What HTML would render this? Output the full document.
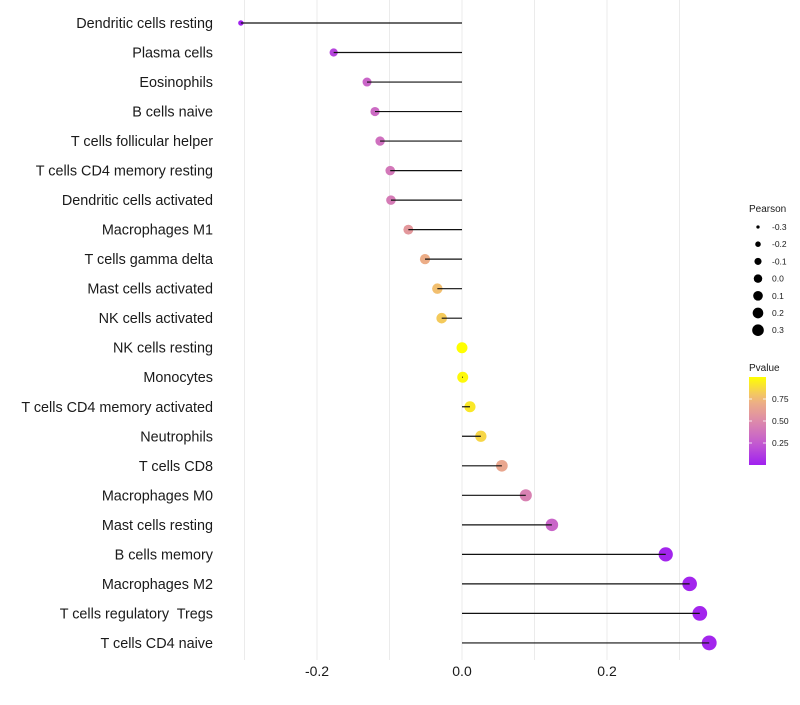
<!DOCTYPE html>
<html><head><meta charset="utf-8"><style>
body{margin:0;background:#fff;}
svg text{font-family:"Liberation Sans",sans-serif;white-space:pre;}
</style></head><body>
<svg id="chart" width="800" height="700" xmlns="http://www.w3.org/2000/svg">
<g id="grid"></g>
<g id="ylabels"></g>
<g id="xlabels"></g>
<g id="marks"></g>
<g id="legend"></g>
</svg>
<script>
const categories=["Dendritic cells resting","Plasma cells","Eosinophils","B cells naive","T cells follicular helper","T cells CD4 memory resting","Dendritic cells activated","Macrophages M1","T cells gamma delta","Mast cells activated","NK cells activated","NK cells resting","Monocytes","T cells CD4 memory activated","Neutrophils","T cells CD8","Macrophages M0","Mast cells resting","B cells memory","Macrophages M2","T cells regulatory  Tregs","T cells CD4 naive"];
const pearson=[-0.305,-0.177,-0.131,-0.120,-0.113,-0.099,-0.098,-0.074,-0.051,-0.034,-0.028,0.0,0.001,0.011,0.026,0.055,0.088,0.124,0.281,0.314,0.328,0.341];
const pvalue=[0.01,0.15,0.30,0.33,0.36,0.40,0.42,0.58,0.70,0.78,0.82,1.0,0.98,0.92,0.86,0.66,0.45,0.30,0.02,0.02,0.02,0.02];
const xTicks=[-0.2,0,0.2];
const xTickLabels=["-0.2","0.0","0.2"];
const gridVals=[-0.3,-0.2,-0.1,0,0.1,0.2,0.3];
const sizeLegend=[-0.3,-0.2,-0.1,0.0,0.1,0.2,0.3];
const pTicks=[0.25,0.5,0.75];

const NS="http://www.w3.org/2000/svg";
const X=v=>462+v*725;
const Y=i=>23+i*29.52;
const R=v=>Math.sqrt(Math.max(2,30+74*v));
const stops=[[0,[160,32,240]],[0.25,[196,92,208]],[0.5,[221,138,170]],[0.75,[240,182,126]],[1,[255,255,0]]];
function col(p){for(let k=1;k<stops.length;k++){if(p<=stops[k][0]){const a=stops[k-1],b=stops[k],t=(p-a[0])/(b[0]-a[0]);return 'rgb('+a[1].map((c,j)=>Math.round(c+(b[1][j]-c)*t)).join(',')+')';}}return 'rgb(255,255,0)';}
function mk(tag,attrs,parent){const e=document.createElementNS(NS,tag);for(const k in attrs)e.setAttribute(k,attrs[k]);parent.appendChild(e);return e;}
const grid=document.getElementById('grid');
gridVals.forEach(v=>{const l=mk('line',{x1:X(v),x2:X(v),y1:0,y2:660,stroke:'#ebebeb','stroke-width':1},grid);

});
const yl=document.getElementById('ylabels');
categories.forEach((c,i)=>{const t=mk('text',{x:213,y:Y(i)+5,'text-anchor':'end','font-size':14.4,fill:'#1a1a1a'},yl);t.textContent=c;

});
const xl=document.getElementById('xlabels');
xTicks.forEach((v,i)=>{const t=mk('text',{x:X(v),y:676,'text-anchor':'middle','font-size':14,fill:'#1a1a1a'},xl);t.textContent=xTickLabels[i];

});
const m=document.getElementById('marks');
categories.forEach((c,i)=>{
const p=mk('circle',{cx:X(pearson[i]),cy:Y(i),r:R(pearson[i]),fill:col(pvalue[i])},m);


const s=mk('line',{x1:X(0),x2:X(pearson[i]),y1:Y(i),y2:Y(i),stroke:'#111','stroke-width':1.2},m);


});
const lg=document.getElementById('legend');
let t=mk('text',{x:749,y:212,'font-size':10,fill:'#1a1a1a'},lg);t.textContent='Pearson';


sizeLegend.forEach((v,i)=>{const y=227+i*17.2;
const c=mk('circle',{cx:758,cy:y,r:Math.sqrt(Math.max(1,25.4+69*v))*0.9-0.3,fill:'#000'},lg);


const tt=mk('text',{x:772,y:y+3,'font-size':8.5,fill:'#1a1a1a'},lg);tt.textContent=v.toFixed(1);

});
t=mk('text',{x:749,y:371,'font-size':10,fill:'#1a1a1a'},lg);t.textContent='Pvalue';


const defs=mk('defs',{},lg);const g=mk('linearGradient',{id:'pg',x1:0,y1:1,x2:0,y2:0},defs);
for(let k=0;k<=10;k++){mk('stop',{offset:k/10,'stop-color':col(k/10)},g);}
const bar=mk('rect',{x:749,y:377,width:17,height:88,fill:'url(#pg)'},lg);


pTicks.forEach(v=>{const y=465-v*88;
mk('line',{x1:749,x2:752,y1:y,y2:y,stroke:'#fff','stroke-width':0.8},lg);
mk('line',{x1:763,x2:766,y1:y,y2:y,stroke:'#fff','stroke-width':0.8},lg);
const tt=mk('text',{x:772,y:y+3,'font-size':8.5,fill:'#1a1a1a'},lg);tt.textContent=v.toFixed(2);

});
</script>
</body></html>
